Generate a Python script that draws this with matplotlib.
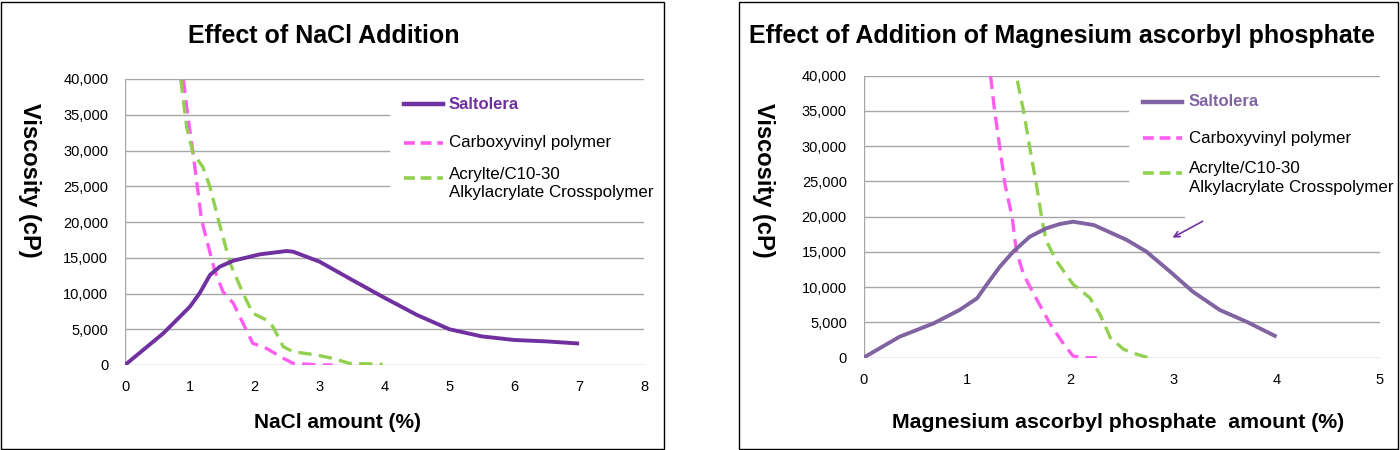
import matplotlib
matplotlib.use('Agg')
import matplotlib.pyplot as plt
from matplotlib.patches import Rectangle

plt.rcParams['font.family'] = ['Liberation Sans', 'DejaVu Sans']

# ---- NaCl chart data ----
nacl_salt_x = [0, 0.59, 1.0, 1.15, 1.31, 1.46, 1.67, 2.08, 2.49, 2.59, 3.0, 3.5, 4.0, 4.5, 5.0, 5.5, 6.0, 6.5, 7.0]
nacl_salt_y = [0, 4430, 8150, 10030, 12590, 13750, 14590, 15480, 15940, 15850, 14450, 11900, 9400, 7000, 5000, 4000, 3500, 3300, 3000]

nacl_carb_x = [0.9, 0.97, 1.05, 1.18, 1.28, 1.38, 1.51, 1.67, 1.82, 1.97, 2.18, 2.44, 2.59, 3.0, 3.2]
nacl_carb_y = [39900, 34700, 29600, 20280, 16780, 13290, 10250, 8630, 5830, 3030, 2330, 940, 240, 0, 0]

nacl_acr_x = [0.86, 0.95, 1.05, 1.2, 1.31, 1.44, 1.62, 1.82, 1.97, 2.18, 2.28, 2.44, 2.59, 2.95, 3.2, 3.46, 3.97]
nacl_acr_y = [39900, 33300, 29600, 27700, 24900, 20280, 14220, 10030, 7230, 6290, 5360, 2560, 1860, 1400, 930, 230, 100]

# ---- Magnesium ascorbyl phosphate chart data ----
map_salt_x = [0, 0.35, 0.68, 0.93, 1.10, 1.19, 1.32, 1.45, 1.61, 1.77, 1.90, 2.03, 2.23, 2.55, 2.74, 2.97, 3.19, 3.45, 3.71, 4.0]
map_salt_y = [0, 2980, 4880, 6770, 8430, 10300, 12900, 15040, 17160, 18350, 18960, 19290, 18820, 16700, 15040, 12200, 9360, 6770, 5100, 2980]

map_carb_x = [1.23, 1.27, 1.32, 1.37, 1.44, 1.48, 1.55, 1.65, 1.81, 1.94, 2.03, 2.13, 2.26]
map_carb_y = [40000, 35000, 29800, 24600, 19900, 15150, 11800, 9000, 4730, 1890, 240, 0, 0]

map_acr_x = [1.49, 1.55, 1.61, 1.68, 1.73, 1.77, 1.87, 2.03, 2.19, 2.29, 2.39, 2.52, 2.65, 2.76]
map_acr_y = [39300, 35000, 29800, 24100, 19400, 16600, 13700, 10400, 8520, 6150, 2840, 1180, 470, 0]

y_ticks = [0, 5000, 10000, 15000, 20000, 25000, 30000, 35000, 40000]
legend_names = ['Saltolera', 'Carboxyvinyl polymer', 'Acrylte/C10-30\nAlkylacrylate Crosspolymer']

pink = '#FF5CF0'
green = '#92D050'
grid_c = '#A6A6A6'


def draw_panel(ax, xmax, series, salt_color, short_grid, grid20, leg):
    ax.set_xlim(0, xmax)
    ax.set_ylim(0, 40000)
    for s in ax.spines.values():
        s.set_visible(False)
    ax.axvline(0, color=grid_c, lw=1)
    # gridlines, some cut short by the legend
    for v in y_ticks:
        end = 1.0
        if v in (25000, 30000, 35000):
            end = short_grid
        if v == 20000:
            end = grid20
        ax.plot([0, end], [v, v], transform=ax.get_yaxis_transform(), color=grid_c, lw=1, zorder=1)
    ax.set_yticks(y_ticks)
    ax.set_yticklabels([f'{v:,}' for v in y_ticks])
    ax.set_xticks(range(0, xmax + 1))
    ax.tick_params(length=0, labelsize=10.5)
    ax.tick_params(axis='y', pad=12)
    ax.tick_params(axis='x', pad=11)

    (sx, sy), (cx, cy), (gx, gy) = series
    ax.plot(cx, cy, color=pink, lw=2.4, dashes=(4, 2.2), zorder=3)
    ax.plot(gx, gy, color=green, lw=2.4, dashes=(4, 2.2), zorder=3)
    ax.plot(sx, sy, color=salt_color, lw=2.8, zorder=4, solid_capstyle='butt', solid_joinstyle='round')

    # legend drawn by hand
    x0, x1, xt, rows = leg
    styles = [dict(color=salt_color, lw=3.2), dict(color=pink, lw=2.6, dashes=(3, 1.6)),
              dict(color=green, lw=2.6, dashes=(3, 1.6))]
    for i, name in enumerate(legend_names):
        ax.plot([x0, x1], [rows[i], rows[i]], transform=ax.transAxes, clip_on=False, **styles[i])
        if i == 0:
            ax.text(xt, rows[i], name, transform=ax.transAxes, va='center', ha='left',
                    fontsize=12, fontweight='bold', color=salt_color)
        elif i == 1:
            ax.text(xt, rows[i], name, transform=ax.transAxes, va='center', ha='left', fontsize=12.2)
        else:
            ax.text(xt, rows[i] + 0.04, name, transform=ax.transAxes, va='top', ha='left',
                    fontsize=12.2, linespacing=1.3)


fig = plt.figure(figsize=(14, 4.5), dpi=100)

ax1 = fig.add_axes([125 / 1400, 1 - 365 / 450, 519 / 1400, 286 / 450])
draw_panel(ax1, 8, [(nacl_salt_x, nacl_salt_y), (nacl_carb_x, nacl_carb_y), (nacl_acr_x, nacl_acr_y)],
           '#7030A0', 0.508, 1.0, (0.5376, 0.6127, 0.624, [0.911, 0.777, 0.654]))

ax2 = fig.add_axes([863.5 / 1400, 1 - 357.7 / 450, 516.3 / 1400, 282 / 450])
draw_panel(ax2, 5, [(map_salt_x, map_salt_y), (map_carb_x, map_carb_y), (map_acr_x, map_acr_y)],
           '#8064A2', 0.512, 0.62, (0.541, 0.617, 0.630, [0.907, 0.779, 0.656]))
# small arrow pointing at the Saltolera curve (figure pixels, y from bottom)
ax2.annotate('', xy=(1170, 450 - 239), xytext=(1205, 450 - 220), xycoords='figure pixels',
             textcoords='figure pixels',
             arrowprops=dict(arrowstyle='->', color='#7030A0', lw=1.2))

# titles and axis labels in figure pixels (y from top)
def ftext(x, y, s, **kw):
    fig.text(x / 1400, 1 - y / 450, s, ha='center', va='center', fontweight='bold', **kw)

ftext(324, 36, 'Effect of NaCl Addition', fontsize=18)
ftext(1062, 36, 'Effect of Addition of Magnesium ascorbyl phosphate', fontsize=18)
ftext(29, 180, 'Viscosity (cP)', fontsize=17, rotation=-90)
ftext(763, 180, 'Viscosity (cP)', fontsize=17, rotation=-90)
ftext(337, 422, 'NaCl amount (%)', fontsize=15)
ftext(1118, 422, 'Magnesium ascorbyl phosphate  amount (%)', fontsize=15.3)

# panel frames
fig.patches.append(Rectangle((1 / 1400, 1 / 450), 663 / 1400, 447 / 450, transform=fig.transFigure,
                             fill=False, edgecolor='black', lw=1))
fig.patches.append(Rectangle((739 / 1400, 1 / 450), 659 / 1400, 447 / 450, transform=fig.transFigure,
                             fill=False, edgecolor='black', lw=1))

fig.savefig('out.png', dpi=100)
